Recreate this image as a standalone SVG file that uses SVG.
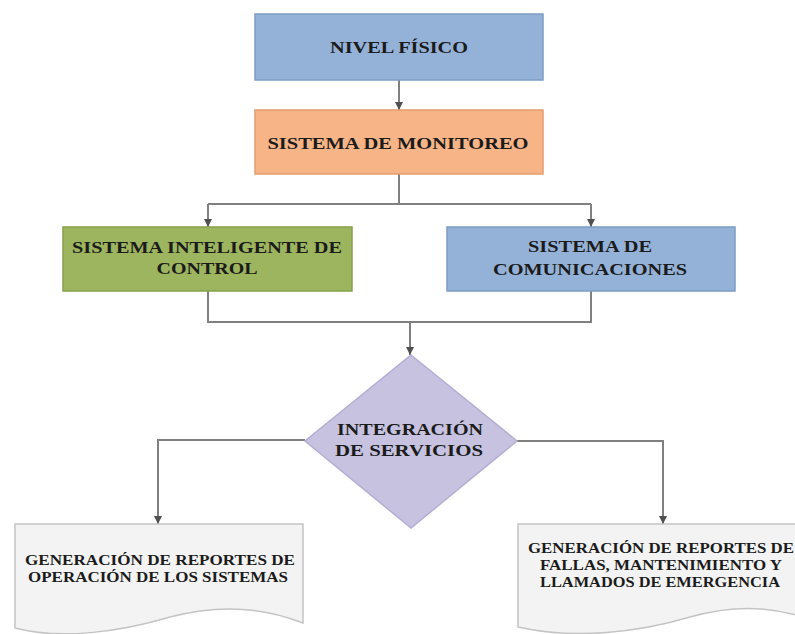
<svg xmlns="http://www.w3.org/2000/svg" width="795" height="634" viewBox="0 0 795 634">
<defs>
<style>
text{font-family:"Liberation Serif","Times New Roman",serif;font-weight:bold;fill:#1b1b1b;text-anchor:middle}
.t16{font-size:17px}
.t14{font-size:14px}
.conn{fill:none;stroke:#808080;stroke-width:2}
.blue{fill:#94b2d7;stroke:#7d9dc4;stroke-width:1.5}
.orange{fill:#f7b486;stroke:#e29d6f;stroke-width:1.5}
.green{fill:#9db55f;stroke:#87a04c;stroke-width:1.5}
.diamond{fill:#c6c2e0;stroke:#b3aed3;stroke-width:1.5}
.doc{fill:#f3f3f3;stroke:#c4c4c4;stroke-width:1.5}
</style>
<marker id="arr" viewBox="0 0 10 10" refX="10" refY="5" markerWidth="4" markerHeight="4" orient="auto">
<path d="M0,0 L10,5 L0,10 Z" fill="#505050"/>
</marker>
</defs>
<rect width="795" height="634" fill="#ffffff"/>

<g id="connectors">
<path class="conn" d="M399,80 V110" marker-end="url(#arr)"/>
<path class="conn" d="M399,174 V204"/>
<path class="conn" d="M208,204 H591"/>
<path class="conn" d="M208,204 V227" marker-end="url(#arr)"/>
<path class="conn" d="M591,204 V227" marker-end="url(#arr)"/>
<path class="conn" d="M208,291 V322 H591 V291"/>
<path class="conn" d="M410,322 V355" marker-end="url(#arr)"/>
<path class="conn" d="M305,440 H158 V524" marker-end="url(#arr)"/>
<path class="conn" d="M517,441 H663 V524" marker-end="url(#arr)"/>
</g>

<g id="nivel-fisico">
<rect class="blue" x="255" y="14" width="288" height="66"/>
<text class="t16" x="399" y="53" textLength="138" lengthAdjust="spacingAndGlyphs">NIVEL FÍSICO</text>
</g>

<g id="sistema-monitoreo">
<rect class="orange" x="255" y="110" width="288" height="64"/>
<text class="t16" x="398" y="149" textLength="261" lengthAdjust="spacingAndGlyphs">SISTEMA DE MONITOREO</text>
</g>

<g id="sistema-inteligente">
<rect class="green" x="63" y="227" width="289" height="64"/>
<text class="t16" x="207" y="253" textLength="270" lengthAdjust="spacingAndGlyphs">SISTEMA INTELIGENTE DE</text>
<text class="t16" x="207" y="274" textLength="101" lengthAdjust="spacingAndGlyphs">CONTROL</text>
</g>

<g id="sistema-comunicaciones">
<rect class="blue" x="447" y="227" width="288" height="64"/>
<text class="t16" x="590" y="252" textLength="124" lengthAdjust="spacingAndGlyphs">SISTEMA DE</text>
<text class="t16" x="590" y="275" textLength="194" lengthAdjust="spacingAndGlyphs">COMUNICACIONES</text>
</g>

<g id="integracion-servicios">
<polygon class="diamond" points="411,355 517,441 411,528 305,441"/>
<text class="t16" x="410" y="435" textLength="146" lengthAdjust="spacingAndGlyphs">INTEGRACIÓN</text>
<text class="t16" x="409" y="456" textLength="148" lengthAdjust="spacingAndGlyphs">DE SERVICIOS</text>
</g>

<g id="reportes-operacion">
<path class="doc" d="M15,524 H303 V623 C260,606 215,605 170,617 C120,632 60,640 15,628 Z"/>
<text class="t14" x="160" y="565" textLength="270" lengthAdjust="spacingAndGlyphs">GENERACIÓN DE REPORTES DE</text>
<text class="t14" x="158" y="582" textLength="260" lengthAdjust="spacingAndGlyphs">OPERACIÓN DE LOS SISTEMAS</text>
</g>

<g id="reportes-fallas">
<path class="doc" d="M518,524 H806 V618 C765,605 730,606 690,617 C640,632 575,640 518,627 Z"/>
<text class="t14" x="661" y="553" textLength="266" lengthAdjust="spacingAndGlyphs">GENERACIÓN DE REPORTES DE</text>
<text class="t14" x="661" y="570" textLength="242" lengthAdjust="spacingAndGlyphs">FALLAS, MANTENIMIENTO Y</text>
<text class="t14" x="660" y="587" textLength="240" lengthAdjust="spacingAndGlyphs">LLAMADOS DE EMERGENCIA</text>
</g>
</svg>
